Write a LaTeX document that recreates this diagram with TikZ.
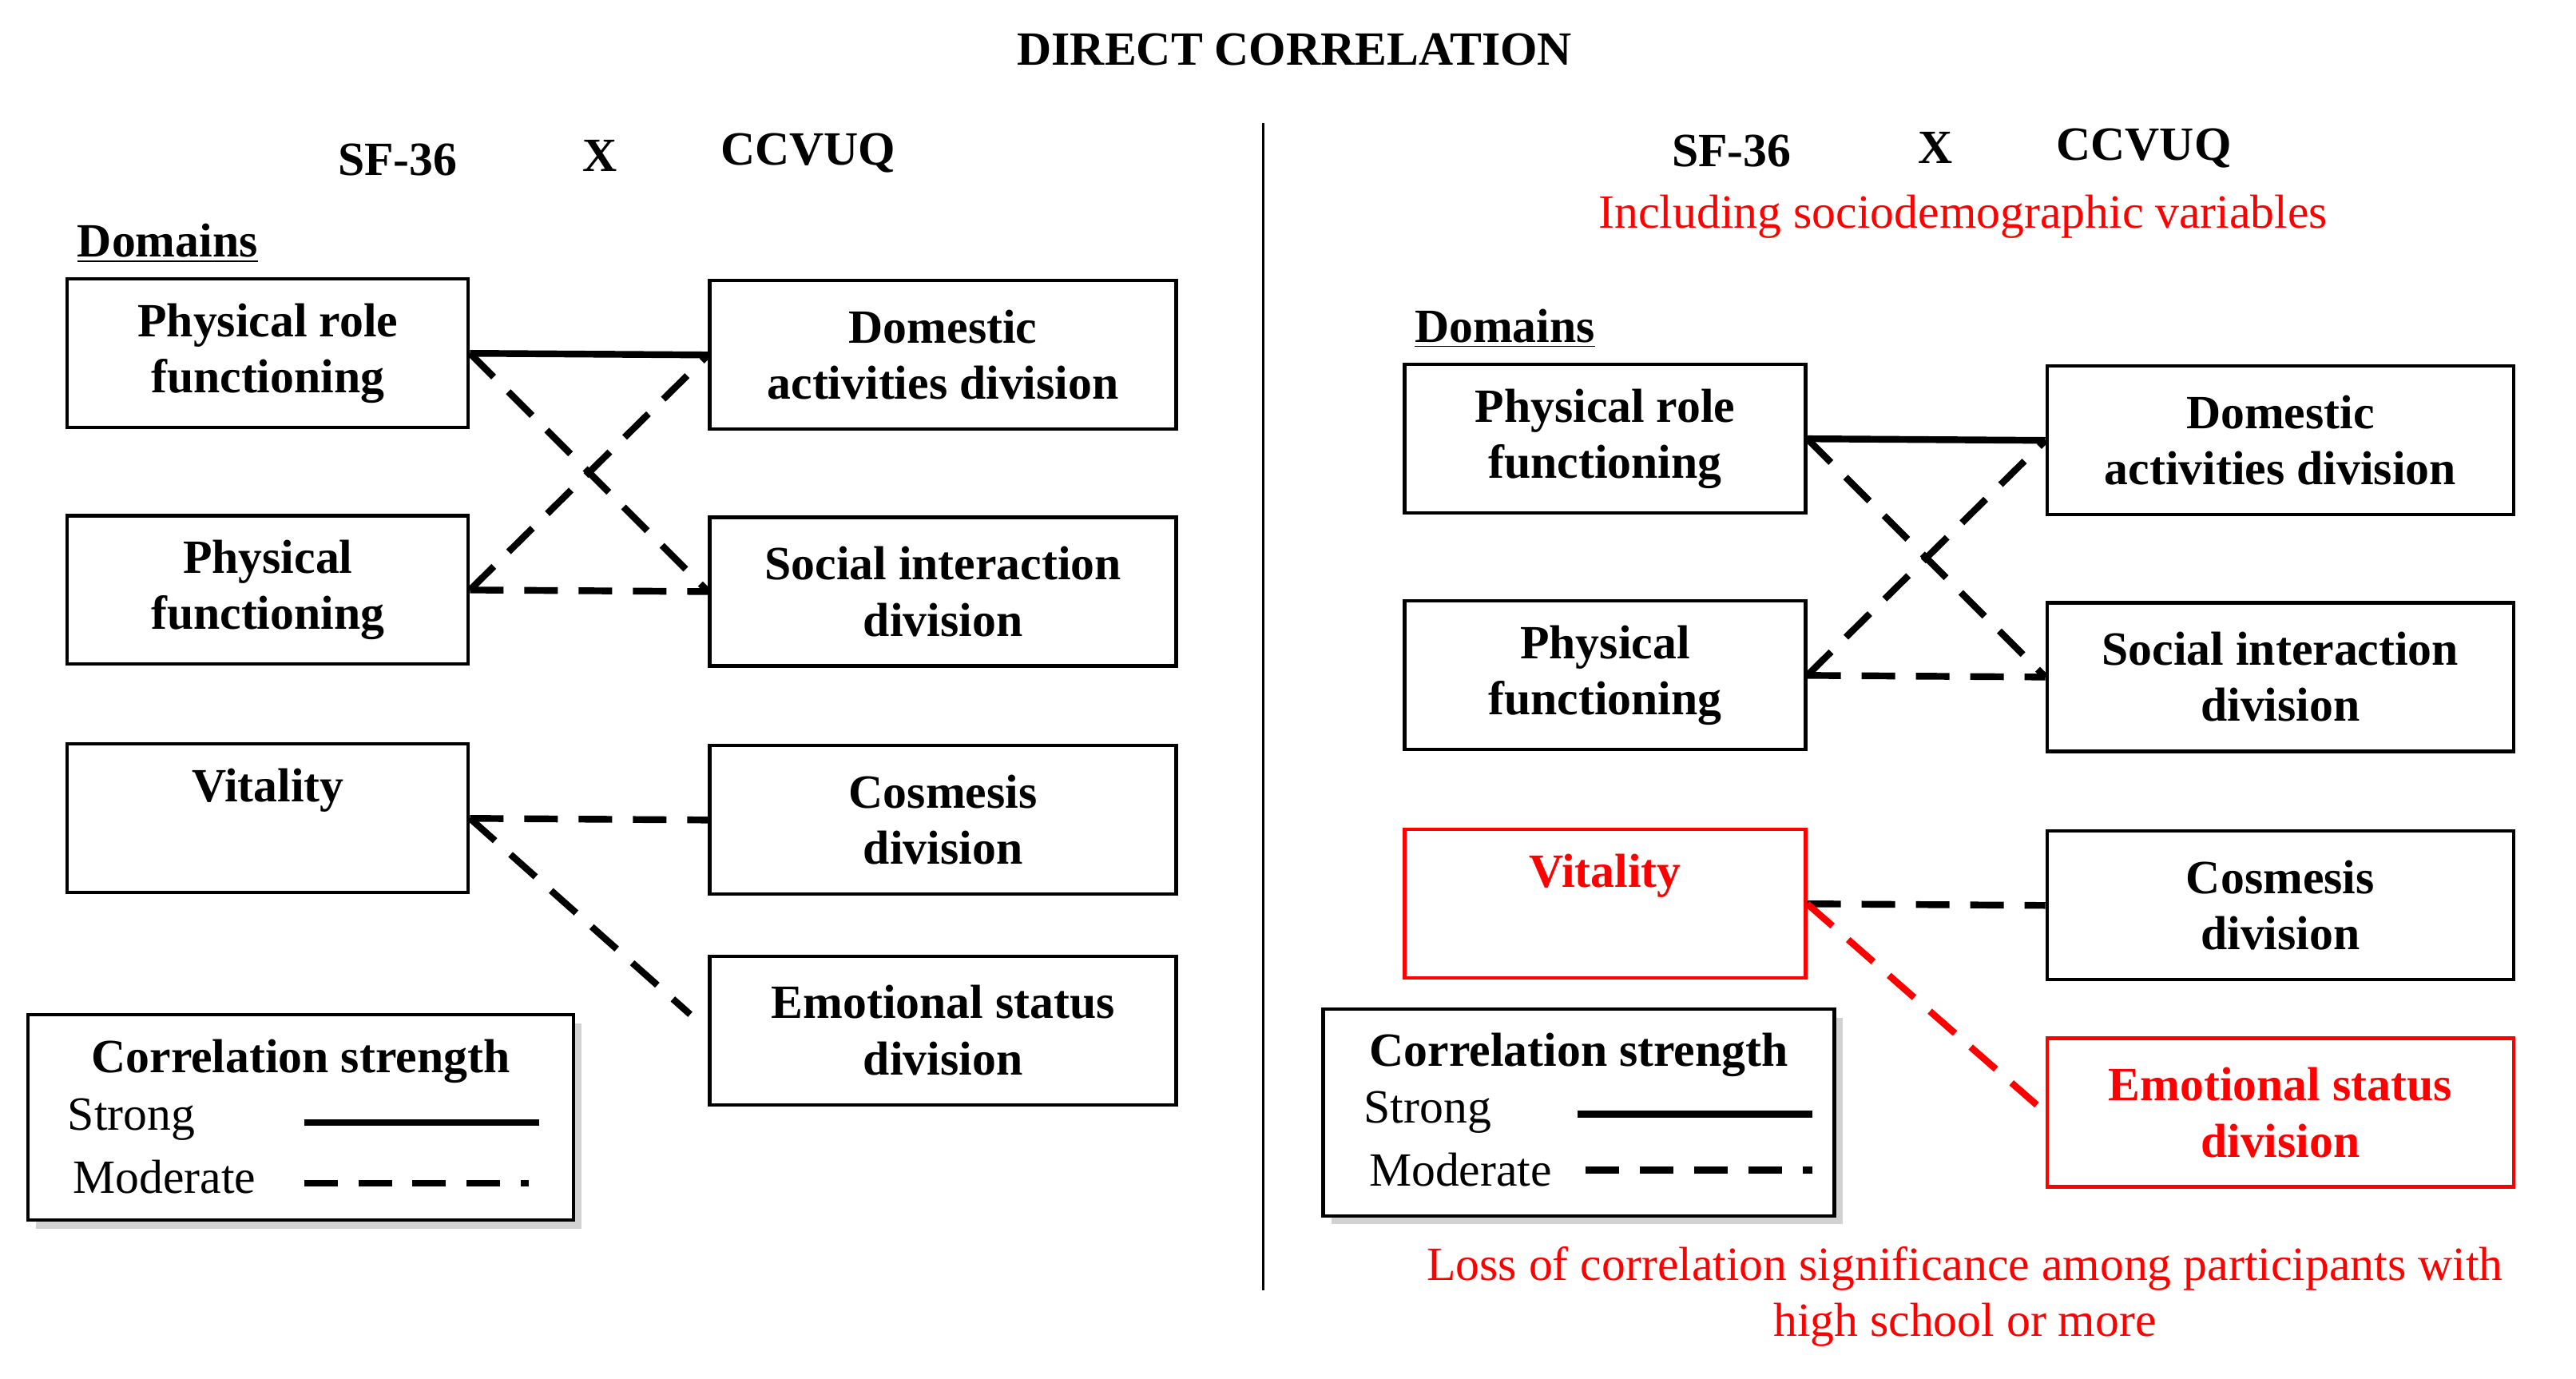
\documentclass[tikz,border=0pt]{standalone}
\usepackage{fontspec}
\setmainfont{Liberation Serif}
\usetikzlibrary{shadows}
\begin{document}
\begin{tikzpicture}[x=0.02057cm,y=-0.02057cm,
  every node/.style={font=\fontsize{17}{20}\selectfont},
  bx/.style={draw,line width=1.2pt,minimum height=1.86cm,align=center,font=\fontsize{17}{20}\selectfont\bfseries,inner sep=0pt},
  L/.style={bx,minimum width=5.02cm},
  R/.style={bx,minimum width=5.84cm},
  strong/.style={line width=2.4pt},
  mod/.style={line width=2.4pt,dash pattern=on 0.42cm off 0.26cm},
  hd/.style={font=\fontsize{17}{20}\selectfont\bfseries},
  leg/.style={draw,line width=1.2pt,fill=white,drop shadow={shadow xshift=3pt,shadow yshift=-3pt,fill=black!35}},
  red/.style={text=red}]
\useasboundingbox (0,0) rectangle (1568,839);
\node[hd] (title) at (788,30) {DIRECT CORRELATION};
\draw[line width=0.8pt] (769,75) coordinate (d1) -- (769,785) coordinate (d2);
% left panel
\node[hd] (s1) at (242,97) {SF-36};
\node[hd] (x1) at (365,95) {X};
\node[hd] (c1) at (492,93) {CCVUQ};
\node[hd] (dm1) at (102,148) {\underline{Domains}};
\node[L] (a1) at (163,215) {Physical role\\functioning};
\node[L] (a2) at (163,359) {Physical\\functioning};
\node[L] (a3) at (163,498) {};
\node[hd] (a3t) at (163,481) {Vitality};
\node[R] (b1) at (574,216) {Domestic\\activities division};
\node[R] (b2) at (574,360) {Social interaction\\division};
\node[R] (b3) at (574,499) {Cosmesis\\division};
\node[R] (b4) at (574,627) {Emotional status\\division};
\draw[strong] (a1.east) -- (b1.west);
\draw[mod] (a1.east) -- (b2.west);
\draw[mod] (a2.east) -- (b1.west);
\draw[mod] (a2.east) -- (b2.west);
\draw[mod] (a3.east) -- (b3.west);
\draw[mod,shorten >=0.3cm] (a3.east) -- (b4.west);
\node[leg,minimum width=6.83cm,minimum height=2.57cm] (lg1) at (183,680) {};
\node[hd] (lt1) at (183,646) {Correlation strength};
\node (ls1) at (80,681) {Strong};
\node (lm1) at (100,716) {Moderate};
\coordinate (p1) at (185,683); \coordinate (p2) at (328,683);
\coordinate (q1) at (185,720); \coordinate (q2) at (322,720);
\draw[strong] (p1) -- (p2);
\draw[mod] (q1) -- (q2);
% right panel
\node[hd] (s2) at (1054,92) {SF-36};
\node[hd] (x2) at (1178,90) {X};
\node[hd] (c2) at (1305,90) {CCVUQ};
\node[red] (inc) at (1195,132) {Including sociodemographic variables};
\node[hd] (dm2) at (916,200) {\underline{Domains}};
\node[L] (e1) at (977,267) {Physical role\\functioning};
\node[L] (e2) at (977,411) {Physical\\functioning};
\node[L,draw=red] (e3) at (977,550) {};
\node[hd,red] (e3t) at (977,533) {Vitality};
\node[R] (f1) at (1388,268) {Domestic\\activities division};
\node[R] (f2) at (1388,412) {Social interaction\\division};
\node[R] (f3) at (1388,551) {Cosmesis\\division};
\node[R,draw=red,text=red] (f4) at (1388,677) {Emotional status\\division};
\draw[strong] (e1.east) -- (f1.west);
\draw[mod] (e1.east) -- (f2.west);
\draw[mod] (e2.east) -- (f1.west);
\draw[mod] (e2.east) -- (f2.west);
\draw[mod] (e3.east) -- (f3.west);
\draw[mod,draw=red,shorten >=0.12cm] (e3.east) -- (f4.west);
\node[leg,minimum width=6.4cm,minimum height=2.59cm] (lg2) at (961,677) {};
\node[hd] (lt2) at (961,642) {Correlation strength};
\node (ls2) at (869,677) {Strong};
\node (lm2) at (889,712) {Moderate};
\coordinate (p3) at (960,678); \coordinate (p4) at (1103,678);
\coordinate (q3) at (965,712); \coordinate (q4) at (1103,712);
\draw[strong] (p3) -- (p4);
\draw[mod] (q3) -- (q4);
\node[red,align=center] (loss) at (1196,789) {Loss of correlation significance among participants with\\high school or more};
\end{tikzpicture}
\end{document}
